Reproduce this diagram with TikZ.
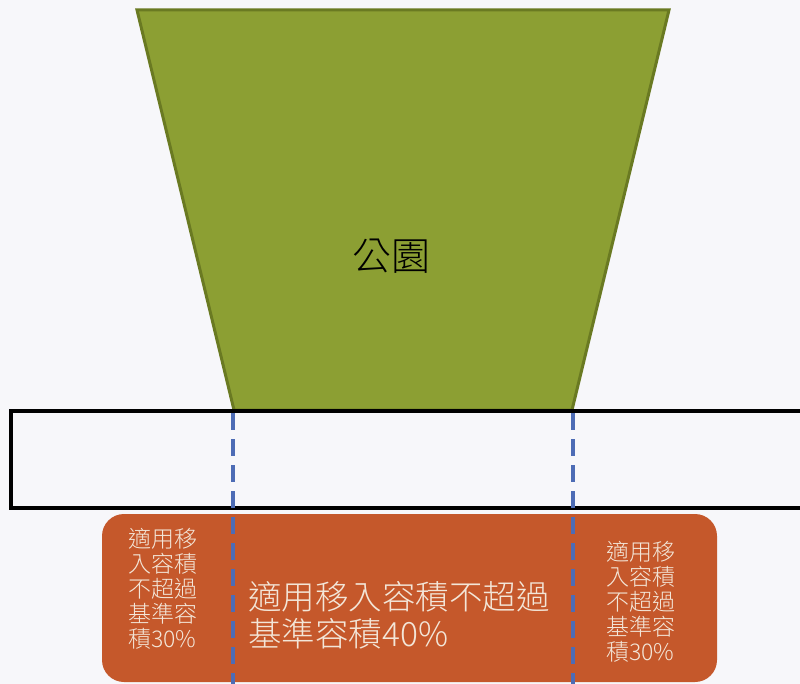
\documentclass[tikz,border=0pt]{standalone}
\usepackage{fontspec}
\newfontfamily\cjk{Noto Sans CJK TC}
\newfontfamily\cjklight{Noto Sans CJK TC Light}
\definecolor{parkgreen}{HTML}{8C9F33}
\definecolor{parkedge}{HTML}{6A7A22}
\definecolor{zoneorange}{HTML}{C5582B}
\definecolor{dashblue}{HTML}{4D6CB5}
\definecolor{paletext}{HTML}{F3E6D8}
\definecolor{paper}{HTML}{F7F7FA}
\tikzset{
  smalltxt/.style={text=paletext, font=\cjklight\fontsize{23}{25}\selectfont, align=left, inner sep=0pt, anchor=north west},
  bigtxt/.style={text=paletext, font=\cjklight\fontsize{33.5}{37}\selectfont, align=left, inner sep=0pt, anchor=north west},
  guide/.style={dashblue, line width=3.5pt, dash pattern=on 17pt off 9pt},
}
\begin{document}
\begin{tikzpicture}[x=1pt,y=-1pt]
\useasboundingbox (0,0) rectangle (800,684);
\fill[paper] (0,0) rectangle (800,684);
% park trapezoid
\draw[fill=parkgreen, draw=parkedge, line width=3pt] (137,10) -- (669,10) -- (572,410) -- (234,410) -- cycle;
\node[font=\cjklight\fontsize{39}{39}\selectfont, text=black] (park) at (391,256) {公園};
% road band
\draw[black, line width=4pt] (11,411) rectangle (804,508);
% orange zone
\fill[zoneorange, rounded corners=22pt] (102,514) rectangle (717,682);
% dashed guides
\coordinate (lt) at (233,413);
\coordinate (lb) at (233,684);
\coordinate (rt) at (573,413);
\coordinate (rb) at (573,684);
\draw[guide] (lt) -- (lb);
\draw[guide] (rt) -- (rb);
% texts
\node[smalltxt] (lefttxt) at (128,528) {適用移\\入容積\\不超過\\基準容\\積30\%};
\node[smalltxt] (righttxt) at (606,541) {適用移\\入容積\\不超過\\基準容\\積30\%};
\node[bigtxt] (midtxt) at (248,581) {適用移入容積不超過\\基準容積40\%};
\end{tikzpicture}
\end{document}
